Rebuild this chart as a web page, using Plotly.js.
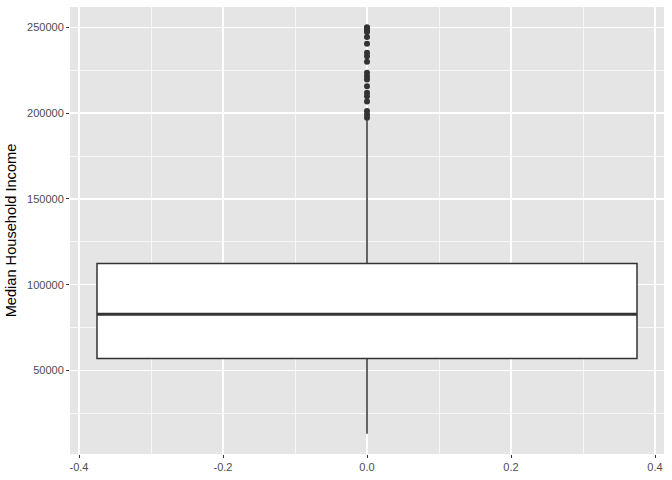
<!DOCTYPE html>
<html>
<head>
<meta charset="utf-8">
<script src="https://cdn.plot.ly/plotly-3.0.1.min.js"></script>
<style>html,body{margin:0;padding:0;background:#fff;}#chart{width:672px;height:480px;}</style>
</head>
<body>
<div id="chart"></div>
<script>
// Box statistics
const boxQ1 = 57000;
const boxMedian = 82800;
const boxQ3 = 112400;
const whiskerLow = 13200;
const whiskerHigh = 195900;
const boxWidth = 0.75;

// Outliers above the upper whisker
const outliers = [250000, 249600, 249000, 248200, 247300, 244300, 240400, 235200, 233200,
  229900, 223500, 221500, 219600, 215700, 211800, 209900, 206700, 201200, 199200, 197300];

const xTickVals = [-0.4, -0.2, 0, 0.2, 0.4];
const xTickText = ["-0.4", "-0.2", "0.0", "0.2", "0.4"];
const yTickVals = [50000, 100000, 150000, 200000, 250000];
const yTickText = ["50000", "100000", "150000", "200000", "250000"];
const yTitle = "Median Household Income";

const ink = '#333333';

const yMin = Math.min(whiskerLow, ...outliers);
const yMax = Math.max(whiskerHigh, ...outliers);
const yPad = (yMax - yMin) * 0.05;
const xPad = boxWidth * 0.05;

const traces = [
  {
    type: 'box',
    x: [0],
    q1: [boxQ1], median: [boxMedian], q3: [boxQ3],
    lowerfence: [whiskerLow], upperfence: [whiskerHigh],
    width: boxWidth,
    whiskerwidth: 0,
    fillcolor: '#FFFFFF',
    line: {color: ink, width: 1.5},
    boxpoints: false,
    showlegend: false,
    hoverinfo: 'y'
  },
  {
    type: 'scatter', mode: 'lines',
    x: [-boxWidth / 2, boxWidth / 2],
    y: [boxMedian, boxMedian],
    line: {color: ink, width: 2.8},
    showlegend: false, hoverinfo: 'skip'
  },
  {
    type: 'scatter', mode: 'markers',
    x: outliers.map(() => 0),
    y: outliers,
    marker: {color: ink, size: 6},
    showlegend: false, hoverinfo: 'y'
  }
];

const layout = {
  width: 672, height: 480,
  margin: {l: 70, r: 8, t: 7, b: 26},
  paper_bgcolor: '#FFFFFF',
  plot_bgcolor: '#E5E5E5',
  font: {family: 'Liberation Sans, Arial, sans-serif', color: '#4D4D4D', size: 11},
  xaxis: {
    range: [-boxWidth / 2 - xPad, boxWidth / 2 + xPad],
    tickvals: xTickVals, ticktext: xTickText,
    showgrid: true, gridcolor: '#FFFFFF', gridwidth: 1.4,
    zeroline: false, showline: false,
    ticks: 'outside', ticklen: 3, tickwidth: 1, tickcolor: ink,
    tickfont: {size: 11, color: '#4D4D4D'},
    minor: {tickvals: [-0.3, -0.1, 0.1, 0.3], showgrid: true, gridcolor: '#FFFFFF', gridwidth: 0.7, ticks: ''},
    fixedrange: true
  },
  yaxis: {
    range: [yMin - yPad, yMax + yPad],
    tickvals: yTickVals, ticktext: yTickText,
    showgrid: true, gridcolor: '#FFFFFF', gridwidth: 1.4,
    zeroline: false, showline: false,
    ticks: 'outside', ticklen: 3, tickwidth: 1, tickcolor: ink,
    tickfont: {size: 11, color: '#4D4D4D'},
    minor: {tickvals: [25000, 75000, 125000, 175000, 225000], showgrid: true, gridcolor: '#FFFFFF', gridwidth: 0.7, ticks: ''},
    title: {text: yTitle, font: {size: 14.6, color: '#000000'}, standoff: 6},
    fixedrange: true
  },
  showlegend: false
};

Plotly.newPlot('chart', traces, layout, {displayModeBar: false, staticPlot: true});
</script>
</body>
</html>
